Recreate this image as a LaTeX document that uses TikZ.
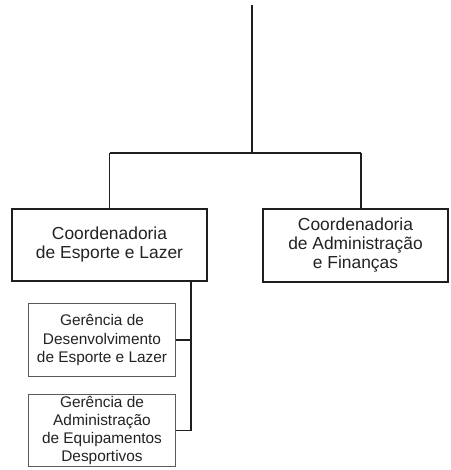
\documentclass[tikz,border=0pt]{standalone}
\usepackage{fontspec}
\setmainfont{Liberation Sans}
\definecolor{txt}{HTML}{222222}
\definecolor{ln}{HTML}{1E1E1E}
\definecolor{thin}{HTML}{5A5A5A}
\begin{document}
\begin{tikzpicture}[x=1bp,y=-1bp,
  mainbox/.style={draw=ln,line width=2.6bp,rectangle,inner sep=0pt,align=center,text=txt,
    font=\fontsize{17.4bp}{19bp}\selectfont},
  subbox/.style={draw=thin,line width=1.1bp,rectangle,inner sep=0pt,align=center,text=txt,
    minimum width=147bp,font=\fontsize{15.4bp}{18.3bp}\selectfont},
  conn/.style={draw=ln,line width=1.5bp}]
\useasboundingbox (0,0) rectangle (451,470);
\node[mainbox,minimum width=195bp,minimum height=72bp] (L) at (109.5,245) {Coordenadoria\\de Esporte e Lazer};
\node[mainbox,minimum width=185bp,minimum height=73bp] (R) at (355.5,245.5) {Coordenadoria\\de Administração\\e Finanças};
\node[subbox,minimum height=73bp] (S1) at (102,340) {Gerência de\\Desenvolvimento\\de Esporte e Lazer};
\node[subbox,minimum height=72bp] (S2) at (102,430.5) {Gerência de\\Administração\\de Equipamentos\\Desportivos};
\coordinate (top) at (252,5);
\coordinate (junc) at (252,153);
\coordinate (jl) at (109.5,153);
\coordinate (jr) at (361,153);
\coordinate (vx) at (191,0);
\draw[conn] (top) -- (junc);
\draw[conn] (jl) -- (jr);
\draw[conn] (jl) -- (L.north);
\draw[conn] (jr) -- (jr |- R.north);
\draw[conn,line width=1.8bp] (vx |- L.south) -- (vx |- S2.east);
\draw[conn] (S1.east) -- (vx |- S1.east);
\draw[conn] (S2.east) -- (vx |- S2.east);
\end{tikzpicture}
\end{document}
